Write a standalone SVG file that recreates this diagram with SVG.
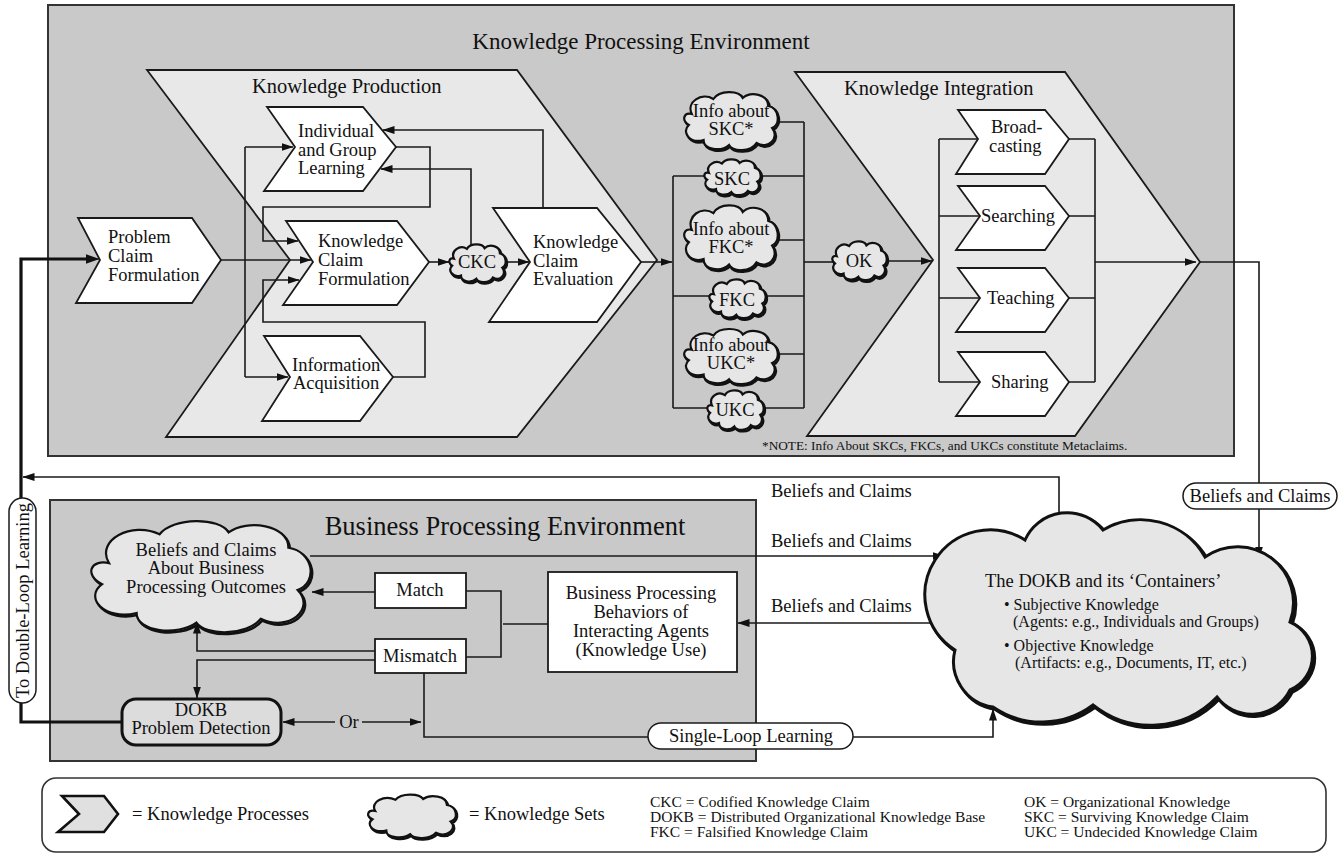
<svg xmlns="http://www.w3.org/2000/svg" xmlns:xlink="http://www.w3.org/1999/xlink" width="1340" height="856" viewBox="0 0 1340 856">
<defs>
<style>
  text { font-family: "Liberation Serif", "Times New Roman", serif; fill: #111; }
  .env { fill: #c9c9c9; stroke: #333; stroke-width: 2; }
  .big { fill: #e8e8e8; stroke: #1a1a1a; stroke-width: 1.8; }
  .proc { fill: #fff; stroke: #1a1a1a; stroke-width: 1.8; }
  .box { fill: #fff; stroke: #1a1a1a; stroke-width: 1.8; }
  .pill { fill: #fff; stroke: #1a1a1a; stroke-width: 1.5; }
  .ks { fill: #e6e6e6; stroke: #111; stroke-width: 2.2; }
  .ksh { fill: none; stroke: #111; stroke-width: 2.6; }
  .ln { fill: none; stroke: #1a1a1a; stroke-width: 1.6; }
  .arr { marker-end: url(#ah); }
  .thick { fill: none; stroke: #111; stroke-width: 3.2; }
  .lbl { font-size: 18.5px; }
  .mid { text-anchor: middle; }
  .abbr { font-size: 15.5px; }
</style>
<marker id="ah" viewBox="0 0 12 8" refX="11.5" refY="4" markerWidth="12" markerHeight="8" markerUnits="userSpaceOnUse" orient="auto">
  <path d="M0,0 L12,4 L0,8 Z" fill="#111"/>
</marker>
<marker id="ahb" viewBox="0 0 14 10" refX="13.5" refY="5" markerWidth="14" markerHeight="10" markerUnits="userSpaceOnUse" orient="auto">
  <path d="M0,0 L14,5 L0,10 Z" fill="#111"/>
</marker>
<!-- generic knowledge-set cloud in a 100 x 60 box -->
<path id="cl" vector-effect="non-scaling-stroke" d="M10,24 C4,12 20,2 32,9 C38,0 58,0 62,8 C70,1 88,4 88,16 C99,18 101,34 92,38 C100,48 88,60 76,53 C70,62 52,62 48,55 C40,62 22,60 22,50 C8,54 -1,42 7,35 C-1,30 2,22 10,24 Z"/>
</defs>

<rect width="1340" height="856" fill="#fff"/>

<!-- environments -->
<g id="kpe">
  <rect class="env" x="48" y="5" width="1186" height="451"/>
  <text x="641" y="49" class="mid" font-size="23">Knowledge Processing Environment</text>
  <text x="762" y="450" font-size="13.3">*NOTE: Info About SKCs, FKCs, and UKCs constitute Metaclaims.</text>
</g>
<g id="knowledge-production">
  <path class="big" d="M147,70 L517,70 L657,260 L517,437 L166,437 L290,260 Z"/>
  <text x="252" y="93" font-size="20.5">Knowledge Production</text>
</g>
<g id="knowledge-integration">
  <path class="big" d="M795,72 L1065,72 L1200,262 L1075,436 L807,436 L933,260 Z"/>
  <text x="844" y="95" font-size="20.5">Knowledge Integration</text>
</g>
<g id="bpe">
  <rect class="env" x="50" y="500" width="706" height="261"/>
  <text x="505" y="535" class="mid" font-size="26.5">Business Processing Environment</text>
</g>

<!-- connectors -->
<g id="connectors">
  <!-- knowledge production -->
  <path class="ln arr" d="M221,260 L311,260"/>
  <path class="ln" d="M245,147 L245,377"/>
  <path class="ln arr" d="M245,147 L293,147"/>
  <path class="ln arr" d="M245,377 L288,377"/>
  <path class="ln arr" d="M396,147 L430,147 L430,207 L263,207 L263,241 L298,241"/>
  <path class="ln arr" d="M393,377 L425,377 L425,322 L263,322 L263,280 L299,280"/>
  <path class="ln arr" d="M429,262 L449,262"/>
  <path class="ln arr" d="M507,262 L529,262"/>
  <path class="ln arr" d="M471,250 L471,169 L381,169"/>
  <path class="ln arr" d="M543,208 L543,130 L383,130"/>
  <path class="ln arr" d="M641,262 L672,262"/>
  <!-- claim sets bracket -->
  <path class="ln" d="M673,176 L673,408 M804,122 L804,408"/>
  <path class="ln" d="M770,122 L804,122 M673,176 L804,176 M770,240 L804,240 M673,296 L804,296 M770,354 L804,354 M673,408 L804,408"/>
  <path class="ln" d="M804,262 L834,262"/>
  <path class="ln arr" d="M886,261 L932,261"/>
  <!-- knowledge integration -->
  <path class="ln" d="M939,139 L939,382 M939,139 L978,139 M939,216 L980,216 M939,298 L980,298 M939,382 L980,382"/>
  <path class="ln" d="M1095,139 L1095,382 M1069,139 L1095,139 M1069,216 L1095,216 M1069,298 L1095,298 M1069,382 L1095,382"/>
  <path class="ln arr" d="M1095,262 L1196,262"/>
  <path class="ln" d="M1200,262 L1259,262 L1259,483"/>
  <path class="ln arr" d="M1259,509 L1259,558"/>
  <!-- beliefs and claims flows -->
  <path class="ln arr" d="M1059,514 L1059,477 L23,477"/>
  <path class="ln arr" d="M310,556 L944,556"/>
  <path class="ln arr" d="M934,623 L738,623"/>
  <!-- business processing -->
  <path class="ln arr" d="M375,592 L312,592"/>
  <path class="ln arr" d="M375,651 L197,651 L197,622"/>
  <path class="ln arr" d="M375,660 L197,660 L197,698"/>
  <path class="ln" d="M466,591 L501,591 L501,657 L466,657"/>
  <path class="ln" d="M503,624 L548,624" stroke-width="2.2"/>
  <path class="ln arr" d="M335,722 L283,722"/>
  <path class="ln arr" d="M362,722 L421,722"/>
  <path class="ln" d="M424,673 L424,737 L648,737"/>
  <path class="ln arr" d="M853,737 L993,737 L993,709"/>
  <!-- double-loop -->
  <path class="thick" d="M122,722 L21,722 L21,703"/>
  <path class="thick" d="M21,498 L21,259 L88,259"/>
  <path d="M86,259 L99,259" stroke="#111" stroke-width="1" marker-end="url(#ahb)"/>
</g>

<!-- knowledge processes -->
<g id="problem-claim-formulation">
  <path class="proc" d="M78,218 L192,218 L221,260 L192,303 L76,303 L100,260 Z"/>
  <text class="lbl" x="108" y="243">Problem</text>
  <text class="lbl" x="108" y="262">Claim</text>
  <text class="lbl" x="108" y="281">Formulation</text>
</g>
<g id="individual-group-learning">
  <path class="proc" d="M267,107 L363,107 L396,147 L363,191 L264,191 L295,147 Z"/>
  <text class="lbl" x="298" y="137">Individual</text>
  <text class="lbl" x="298" y="156">and Group</text>
  <text class="lbl" x="298" y="174">Learning</text>
</g>
<g id="knowledge-claim-formulation">
  <path class="proc" d="M286,221 L397,221 L429,262 L397,305 L283,305 L313,262 Z"/>
  <text class="lbl" x="318" y="247">Knowledge</text>
  <text class="lbl" x="318" y="266">Claim</text>
  <text class="lbl" x="318" y="285">Formulation</text>
</g>
<g id="information-acquisition">
  <path class="proc" d="M264,336 L360,336 L393,377 L360,421 L262,421 L290,377 Z"/>
  <text class="lbl" x="292" y="371">Information</text>
  <text class="lbl" x="293" y="389">Acquisition</text>
</g>
<g id="knowledge-claim-evaluation">
  <path class="proc" d="M493,208 L597,208 L641,262 L597,322 L489,322 L530,262 Z"/>
  <text class="lbl" x="533" y="248">Knowledge</text>
  <text class="lbl" x="533" y="267">Claim</text>
  <text class="lbl" x="533" y="285">Evaluation</text>
</g>
<g id="broadcasting">
  <path class="proc" d="M958,110 L1045,110 L1069,139 L1045,174 L956,174 L978,139 Z"/>
  <text class="lbl" x="991" y="133">Broad-</text>
  <text class="lbl" x="989" y="152">casting</text>
</g>
<g id="searching">
  <path class="proc" d="M958,186 L1045,186 L1069,216 L1045,250 L956,250 L980,216 Z"/>
  <text class="lbl" x="981" y="222">Searching</text>
</g>
<g id="teaching">
  <path class="proc" d="M958,268 L1045,268 L1069,298 L1045,332 L956,332 L980,298 Z"/>
  <text class="lbl" x="987" y="304">Teaching</text>
</g>
<g id="sharing">
  <path class="proc" d="M958,352 L1045,352 L1069,382 L1045,416 L956,416 L980,382 Z"/>
  <text class="lbl" x="991" y="388">Sharing</text>
</g>

<!-- knowledge sets -->
<g id="ckc">
  <use xlink:href="#cl" class="ksh" transform="translate(449.2,244.5) scale(0.59,0.65)"/>
  <use xlink:href="#cl" class="ks" transform="translate(448,243) scale(0.59,0.65)"/>
  <text class="lbl mid" x="477" y="268">CKC</text>
</g>
<g id="info-skc">
  <use xlink:href="#cl" class="ksh" transform="translate(683.2,91.5) scale(0.98,1.0)"/>
  <use xlink:href="#cl" class="ks" transform="translate(682,90) scale(0.98,1.0)"/>
  <text class="lbl mid" x="731" y="117">Info about</text>
  <text class="lbl mid" x="731" y="135">SKC*</text>
</g>
<g id="skc">
  <use xlink:href="#cl" class="ksh" transform="translate(704.2,159.5) scale(0.59,0.62)"/>
  <use xlink:href="#cl" class="ks" transform="translate(703,158) scale(0.59,0.62)"/>
  <text class="lbl mid" x="732" y="185">SKC</text>
</g>
<g id="info-fkc">
  <use xlink:href="#cl" class="ksh" transform="translate(683.2,204.5) scale(0.98,1.12)"/>
  <use xlink:href="#cl" class="ks" transform="translate(682,203) scale(0.98,1.12)"/>
  <text class="lbl mid" x="731" y="235">Info about</text>
  <text class="lbl mid" x="731" y="253">FKC*</text>
</g>
<g id="fkc">
  <use xlink:href="#cl" class="ksh" transform="translate(709.2,279.5) scale(0.59,0.67)"/>
  <use xlink:href="#cl" class="ks" transform="translate(708,278) scale(0.59,0.67)"/>
  <text class="lbl mid" x="737" y="306">FKC</text>
</g>
<g id="info-ukc">
  <use xlink:href="#cl" class="ksh" transform="translate(683.2,328.5) scale(0.98,0.95)"/>
  <use xlink:href="#cl" class="ks" transform="translate(682,327) scale(0.98,0.95)"/>
  <text class="lbl mid" x="731" y="351">Info about</text>
  <text class="lbl mid" x="731" y="369">UKC*</text>
</g>
<g id="ukc">
  <use xlink:href="#cl" class="ksh" transform="translate(707.2,390.5) scale(0.59,0.68)"/>
  <use xlink:href="#cl" class="ks" transform="translate(706,389) scale(0.59,0.68)"/>
  <text class="lbl mid" x="735" y="416">UKC</text>
</g>
<g id="ok">
  <use xlink:href="#cl" class="ksh" transform="translate(832.2,241.5) scale(0.57,0.67)"/>
  <use xlink:href="#cl" class="ks" transform="translate(831,240) scale(0.57,0.67)"/>
  <text class="lbl mid" x="859" y="267">OK</text>
</g>
<g id="beliefs-business-outcomes">
  <use xlink:href="#cl" class="ksh" transform="translate(87.5,518.8) scale(2.3,1.92)"/>
  <use xlink:href="#cl" class="ks" transform="translate(86,517) scale(2.3,1.92)"/>
  <text class="lbl mid" x="206" y="556">Beliefs and Claims</text>
  <text class="lbl mid" x="206" y="574">About Business</text>
  <text class="lbl mid" x="206" y="593">Processing Outcomes</text>
</g>
<g id="dokb">
  <path fill="none" stroke="#111" stroke-width="3.6" transform="translate(2,2)" d="M955,650 A65,65 0 0 1 1025,540 A46,46 0 0 1 1103,530 A74,74 0 0 1 1205,557 A56,56 0 0 1 1290,622 A37,37 0 0 1 1290,690 A43,43 0 0 1 1217,697 A92,92 0 0 1 1093,705 A86,86 0 0 1 993,707 A46,46 0 0 1 955,650 Z"/>
  <path fill="#e6e6e6" stroke="#111" stroke-width="3" d="M955,650 A65,65 0 0 1 1025,540 A46,46 0 0 1 1103,530 A74,74 0 0 1 1205,557 A56,56 0 0 1 1290,622 A37,37 0 0 1 1290,690 A43,43 0 0 1 1217,697 A92,92 0 0 1 1093,705 A86,86 0 0 1 993,707 A46,46 0 0 1 955,650 Z"/>
  <text class="lbl" x="985" y="587">The DOKB and its ‘Containers’</text>
  <text font-size="16" x="1004" y="610">• Subjective Knowledge</text>
  <text font-size="16" x="1013" y="627">(Agents: e.g., Individuals and Groups)</text>
  <text font-size="16" x="1004" y="651">• Objective Knowledge</text>
  <text font-size="16" x="1015" y="668">(Artifacts: e.g., Documents, IT, etc.)</text>
</g>

<!-- business processing nodes -->
<g id="match">
  <rect class="box" x="375" y="573" width="91" height="35"/>
  <text class="lbl mid" x="420" y="596">Match</text>
</g>
<g id="mismatch">
  <rect class="box" x="375" y="639" width="91" height="34"/>
  <text class="lbl mid" x="420" y="662">Mismatch</text>
</g>
<g id="business-behaviors">
  <rect class="box" x="548" y="572" width="189" height="100"/>
  <text class="lbl mid" x="641" y="599">Business Processing</text>
  <text class="lbl mid" x="641" y="618">Behaviors of</text>
  <text class="lbl mid" x="641" y="637">Interacting Agents</text>
  <text class="lbl mid" x="641" y="656">(Knowledge Use)</text>
</g>
<g id="problem-detection">
  <rect x="122" y="699" width="159" height="46" rx="14" fill="#dcdcdc" stroke="#111" stroke-width="3"/>
  <text class="lbl mid" x="201" y="716">DOKB</text>
  <text class="lbl mid" x="201" y="734">Problem Detection</text>
</g>
<g id="or-label">
  <text class="lbl mid" x="349" y="728">Or</text>
</g>

<!-- flow labels -->
<g id="flow-labels">
  <text class="lbl" x="771" y="497">Beliefs and Claims</text>
  <text class="lbl" x="771" y="547">Beliefs and Claims</text>
  <text class="lbl" x="771" y="612">Beliefs and Claims</text>
</g>
<g id="pill-beliefs">
  <rect class="pill" x="1183" y="483" width="154" height="26" rx="13"/>
  <text class="lbl mid" x="1260" y="502">Beliefs and Claims</text>
</g>
<g id="pill-single-loop">
  <rect class="pill" x="648" y="723" width="205" height="26" rx="13"/>
  <text class="lbl mid" x="751" y="742">Single-Loop Learning</text>
</g>
<g id="pill-double-loop">
  <rect class="pill" x="9" y="498" width="27" height="205" rx="13.5"/>
  <text class="lbl mid" transform="translate(29,600.5) rotate(-90)">To Double-Loop Learning</text>
</g>

<!-- legend -->
<g id="legend">
  <rect x="42" y="778" width="1284" height="74" rx="14" fill="#fff" stroke="#333" stroke-width="1.6"/>
  <path d="M62,796 L104,796 L118,814 L104,832 L58,832 L79,814 Z" fill="#e0e0e0" stroke="#111" stroke-width="2.6"/>
  <text class="lbl" x="132" y="820">= Knowledge Processes</text>
  <use xlink:href="#cl" class="ksh" transform="translate(367.2,794.5) scale(0.92,0.75)"/>
  <use xlink:href="#cl" class="ks" transform="translate(366,793) scale(0.92,0.75)"/>
  <text class="lbl" x="469" y="820">= Knowledge Sets</text>
  <text class="abbr" x="650" y="807">CKC = Codified Knowledge Claim</text>
  <text class="abbr" x="650" y="822">DOKB = Distributed Organizational Knowledge Base</text>
  <text class="abbr" x="650" y="837">FKC = Falsified Knowledge Claim</text>
  <text class="abbr" x="1024" y="807">OK = Organizational Knowledge</text>
  <text class="abbr" x="1024" y="822">SKC = Surviving Knowledge Claim</text>
  <text class="abbr" x="1024" y="837">UKC = Undecided Knowledge Claim</text>
</g>
</svg>
